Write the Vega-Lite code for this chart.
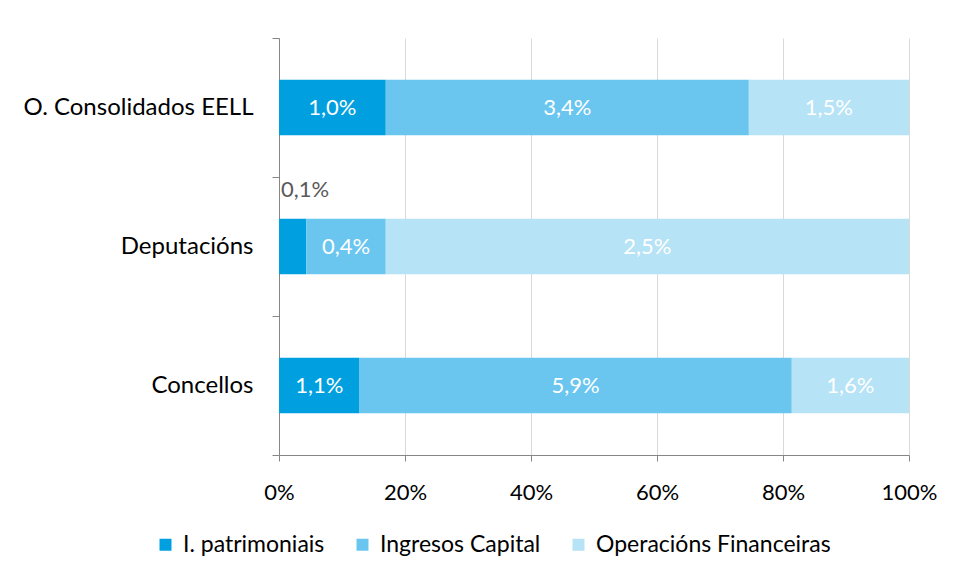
{
  "$schema": "https://vega.github.io/schema/vega-lite/v6.json",
  "width": 630,
  "height": 417,
  "autosize": "none",
  "padding": {"left": 279, "top": 38, "right": 46, "bottom": 121},
  "background": "#ffffff",
  "config": {
    "font": "Lato",
    "view": {"stroke": null},
    "axis": {"labelFont": "Lato", "labelColor": "#000000", "labelFontSize": 22}
  },
  "data": {
    "values": [
      {"ente": "O. Consolidados EELL", "tipo": "I. patrimoniais", "orden": 1, "value": 1.0, "label": "1,0%"},
      {"ente": "O. Consolidados EELL", "tipo": "Ingresos Capital", "orden": 2, "value": 3.4, "label": "3,4%"},
      {"ente": "O. Consolidados EELL", "tipo": "Operacións Financeiras", "orden": 3, "value": 1.5, "label": "1,5%"},
      {"ente": "Deputacións", "tipo": "I. patrimoniais", "orden": 1, "value": 0.13, "label": "0,1%"},
      {"ente": "Deputacións", "tipo": "Ingresos Capital", "orden": 2, "value": 0.38, "label": "0,4%"},
      {"ente": "Deputacións", "tipo": "Operacións Financeiras", "orden": 3, "value": 2.5, "label": "2,5%"},
      {"ente": "Concellos", "tipo": "I. patrimoniais", "orden": 1, "value": 1.1, "label": "1,1%"},
      {"ente": "Concellos", "tipo": "Ingresos Capital", "orden": 2, "value": 5.9, "label": "5,9%"},
      {"ente": "Concellos", "tipo": "Operacións Financeiras", "orden": 3, "value": 1.6, "label": "1,6%"}
    ]
  },
  "encoding": {
    "y": {
      "field": "ente",
      "type": "nominal",
      "sort": ["O. Consolidados EELL", "Deputacións", "Concellos"],
      "scale": {"paddingInner": 0, "paddingOuter": 0},
      "axis": {
        "title": null,
        "tickBand": "extent",
        "domainColor": "#868686",
        "tickColor": "#868686",
        "tickSize": 7,
        "labelPadding": 19,
        "labelFontSize": 24,
        "labelLimit": 0
      }
    }
  },
  "layer": [
    {
      "mark": {"type": "bar", "height": {"band": 0.4}},
      "encoding": {
        "x": {
          "field": "value",
          "type": "quantitative",
          "stack": "normalize",
          "scale": {"domain": [0, 1]},
          "axis": {
            "title": null,
            "format": ".0%",
            "values": [0, 0.2, 0.4, 0.6, 0.8, 1],
            "labelFlush": false,
            "grid": true,
            "gridColor": "#D9D9D9",
            "domainColor": "#868686",
            "tickColor": "#868686",
            "tickSize": 6,
            "labelPadding": 21
          }
        },
        "color": {
          "field": "tipo",
          "type": "nominal",
          "scale": {
            "domain": ["I. patrimoniais", "Ingresos Capital", "Operacións Financeiras"],
            "range": ["#00A0E0", "#6AC6EF", "#B6E3F6"]
          },
          "legend": {
            "title": null,
            "orient": "none",
            "direction": "horizontal",
            "legendX": -125,
            "legendY": 495,
            "symbolType": "square",
            "symbolSize": 144,
            "symbolStrokeWidth": 0,
            "labelFontSize": 23,
            "labelFont": "Lato",
            "labelColor": "#000000",
            "labelLimit": 0,
            "columnPadding": 26,
            "labelOffset": 6
          }
        },
        "order": {"field": "orden", "type": "quantitative"}
      }
    },
    {
      "mark": {"type": "text", "color": "#ffffff", "fontSize": 22, "font": "Lato"},
      "encoding": {
        "x": {"field": "value", "type": "quantitative", "stack": "normalize", "bandPosition": 0.5},
        "text": {"condition": {"test": "datum.value < 0.2", "value": ""}, "field": "label"},
        "detail": {"field": "tipo"},
        "order": {"field": "orden", "type": "quantitative"}
      }
    },
    {
      "mark": {"type": "text", "color": "#595959", "fontSize": 22, "font": "Lato", "align": "left", "dx": 2, "dy": -57},
      "encoding": {
        "x": {"field": "value", "type": "quantitative", "stack": "normalize", "bandPosition": 0},
        "text": {"condition": {"test": "datum.value >= 0.2", "value": ""}, "field": "label"},
        "detail": {"field": "tipo"},
        "order": {"field": "orden", "type": "quantitative"}
      }
    }
  ]
}
